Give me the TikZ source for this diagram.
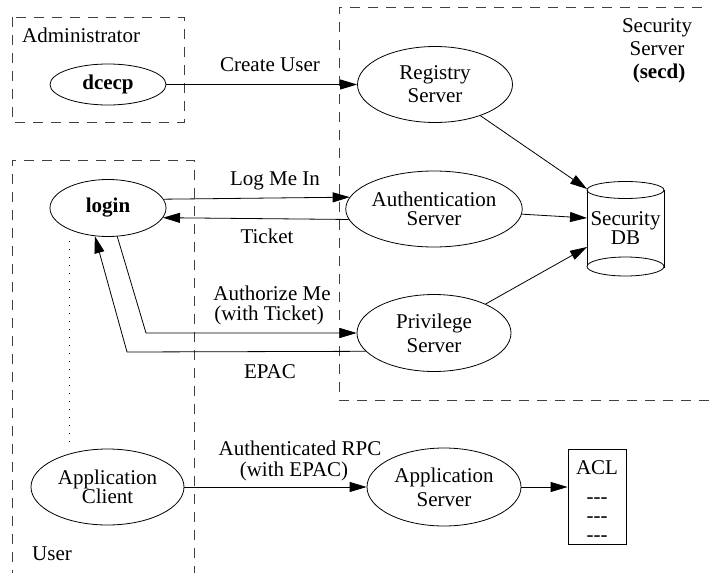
\documentclass[tikz,border=0pt]{standalone}
\usepackage{fontspec}
\setmainfont{Liberation Serif}
\usetikzlibrary{shapes.geometric,arrows.meta}
\begin{document}
\begin{tikzpicture}[x=1pt,y=-1pt,
  every node/.style={font=\fontsize{21}{20}\selectfont, inner sep=0pt},
  ell/.style={draw, ellipse, line width=0.8pt, align=center},
  arr/.style={line width=0.8pt, -{Triangle[length=17pt,width=10pt]}},
  dashbox/.style={line width=0.9pt, draw=black!75, dash pattern=on 10pt off 8pt},
  lbl/.style={anchor=base}]
\useasboundingbox (0,0) rectangle (710,573);
% boxes
\draw[dashbox] (12,17) rectangle (184,122);
\draw[dashbox] (12,580) -- (12,160) -- (194,160) -- (194,580);
\draw[dashbox] (720,7) -- (339,7) -- (339,400) -- (720,400);
% box labels
\node[anchor=base west] (admin) at (22,42) {Administrator};
\node[anchor=base west] (user) at (32,560) {User};
\node[lbl] (ss1) at (657,32) {Security};
\node[lbl] (ss2) at (657,55) {Server};
\node[lbl] (ss3) at (659,78) {\textbf{(secd)}};
% ellipses
\node[ell, minimum width=116pt, minimum height=41pt] (dcecp) at (108,84.5) {\textbf{dcecp}};
\node[ell, minimum width=155pt, minimum height=76pt] (reg) at (435,84.5) {Registry\\[3pt]Server};
\node[ell, minimum width=154pt, minimum height=76pt] (auth) at (434,209) {Authentication\\[-1pt]Server};
\node[ell, minimum width=154pt, minimum height=77pt] (priv) at (434,333) {Privilege\\[4pt]Server};
\node[ell, minimum width=116pt, minimum height=57pt] (login) at (108,208) {\textbf{login}};
\node[ell, minimum width=153pt, minimum height=76pt] (appc) at (107.5,487) {Application\\[-1pt]Client};
\node[ell, minimum width=154pt, minimum height=78pt] (apps) at (444,487) {Application\\[4pt]Server};
% security DB cylinder
\draw[line width=0.8pt] (587,190) -- (587,266) (664,190) -- (664,268);
\draw[line width=0.8pt] (625.5,190) ellipse [x radius=38.5pt, y radius=8.5pt];
\draw[line width=0.8pt] (625.5,266.5) ellipse [x radius=38.5pt, y radius=9.5pt];
\node[lbl] (db1) at (625.5,225) {Security};
\node[lbl] (db2) at (625.5,244) {DB};
\coordinate (dbA) at (587,189);
\coordinate (dbB) at (587,218);
\coordinate (dbC) at (587,247);
% ACL box
\node[draw, line width=0.8pt, minimum width=58pt, minimum height=95pt] (acl) at (597,496.5) {};
\node[lbl] (acl0) at (597,474) {ACL};
\node[lbl] (acl1) at (597,503) {-{}-{}-};
\node[lbl] (acl2) at (597,522) {-{}-{}-};
\node[lbl] (acl3) at (597,541) {-{}-{}-};
% connectors
\draw[arr] (dcecp) -- (reg);
\node[lbl] (l1) at (270,71) {Create User};
\draw[arr] (reg) -- (dbA);
\draw[arr] (auth) -- (dbB);
\draw[arr] (priv) -- (dbC);
\draw[arr] (login.9) -- (auth.172);
\node[lbl] (l2) at (275,185) {Log Me In};
\draw[arr] (auth.187) -- (login.-10);
\node[lbl] (l3) at (267,243) {Ticket};
\coordinate (c1) at (146,333);
\coordinate (c2) at (127,352);
\draw[arr] (login.-72) -- (c1) -- (priv.west);
\node[lbl] (l4) at (272,300) {Authorize Me};
\node[lbl] (l5) at (269,320) {(with Ticket)};
\draw[arr] (priv.195) -- (c2) -- (login.-115);
\node[lbl] (l6) at (270,378) {EPAC};
\coordinate (d1) at (69,241);
\coordinate (d2) at (69,449);
\draw[line width=0.8pt, dash pattern=on 1pt off 7pt] (d1) -- (d2);
\draw[arr] (appc) -- (apps);
\node[lbl] (l7) at (300,455) {Authenticated RPC};
\node[lbl] (l8) at (294,476) {(with EPAC)};
\draw[arr] (apps.east) -- (apps.east -| acl.west);
\end{tikzpicture}
\end{document}
